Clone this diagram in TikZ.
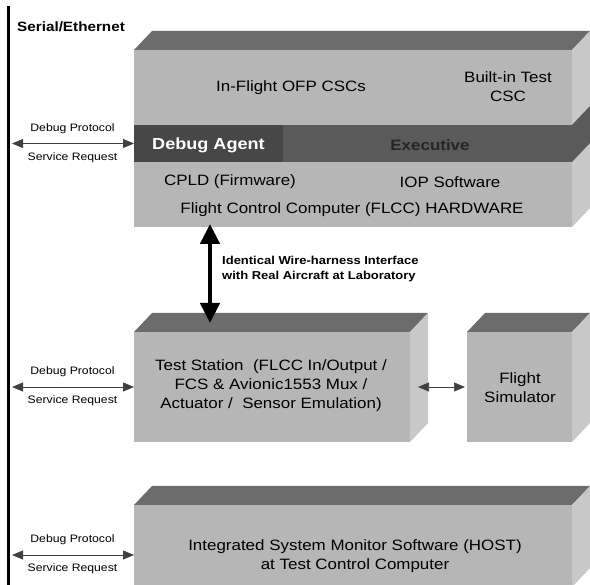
\documentclass[tikz,border=0pt]{standalone}
\usepackage{fontspec}
\setmainfont{Liberation Sans}[FakeStretch=1.13]
\usetikzlibrary{arrows.meta}

\definecolor{topgray}{HTML}{6C6C6C}
\definecolor{frontgray}{HTML}{B6B6B6}
\definecolor{sidegray}{HTML}{C8C8C8}
\definecolor{agentgray}{HTML}{474747}
\definecolor{execgray}{HTML}{5A5A5A}

\newcommand{\fs}[2]{\fontsize{#1}{#2}\selectfont}

% top and right faces of a slab whose front face is node #1
\newcommand{\drawslab}[1]{%
  \fill[topgray] (#1.north west) -- ++(18,-19) -- ([shift={(18,-19)}]#1.north east)
        -- (#1.north east) -- cycle;
  \fill[sidegray] (#1.north east) -- ++(18,-19) -- ([shift={(18,-19)}]#1.south east)
        -- (#1.south east) -- cycle;}

\tikzset{
  front/.style={fill=frontgray, inner sep=0pt, outer sep=0pt},
  band/.style={inner sep=0pt, outer sep=0pt},
  txt/.style={inner sep=0pt, align=center, font=\fs{15}{19}},
  small/.style={inner sep=0pt, font=\fs{10.8}{13}},
  dbg/.style={draw=black!75, line width=0.8pt,
    {Triangle[length=11pt,width=9pt]}-{Triangle[length=11pt,width=9pt]}},
  bus/.style={line width=3.6pt},
  wire/.style={line width=4.5pt,
    {Triangle[length=20pt,width=19pt]}-{Triangle[length=20pt,width=19pt]}},
}

\begin{document}
\begin{tikzpicture}[x=1pt, y=-1pt]
\useasboundingbox (0,0) rectangle (590,585);

% ---- Flight Control Computer slab ----
\node[front, minimum width=438pt, minimum height=177pt] (flcc) at (353,138.5) {};
\drawslab{flcc}
\node[band, fill=agentgray, minimum width=149pt, minimum height=37pt] (agent) at (208.5,143.5) {};
\node[band, fill=execgray, minimum width=289pt, minimum height=37pt] (exec) at (427.5,143.5) {};
\fill[execgray] (exec.north east) -- ++(18,-19) -- ++(0,37) -- (exec.south east) -- cycle;

\node[txt] (ofp) at (291,88) {In-Flight OFP CSCs};
\node[txt] (bit) at (508,87) {Built-in Test\\CSC};
\node[txt, font=\fs{16}{19}\bfseries, text=white, anchor=west] (agentlbl) at (152,145) {Debug Agent};
\node[txt, font=\fs{15}{19}\bfseries, text=black!85] (execlbl) at (430,145) {Executive};
\node[txt] (cpld) at (230,182) {CPLD (Firmware)};
\node[txt] (iop) at (450,182) {IOP Software};
\node[txt] (hw) at (352,210) {Flight Control Computer (FLCC) HARDWARE};

% ---- Test Station and Flight Simulator slabs ----
\node[front, minimum width=276pt, minimum height=110pt] (ts) at (272,387) {};
\drawslab{ts}
\node[front, minimum width=105pt, minimum height=110pt] (sim) at (519.5,387) {};
\drawslab{sim}
\node[txt] (tslbl) at (271,386) {Test Station\ \ (FLCC In/Output /\\FCS \& Avionic1553 Mux /\\Actuator /\ \ Sensor Emulation)};
\node[txt] (simlbl) at (520,388) {Flight\\Simulator};

% ---- Host slab ----
\node[front, minimum width=438pt, minimum height=82pt] (host) at (353,546) {};
\drawslab{host}
\node[txt] (hostlbl) at (355,556) {Integrated System Monitor Software (HOST)\\at Test Control Computer};

% ---- Serial/Ethernet bus ----
\coordinate (busTop) at (8.5,6);
\coordinate (busBot) at (8.5,585);
\draw[bus] (busTop) -- (busBot);
\node[inner sep=0pt, anchor=west, font=\fs{13.5}{15}\bfseries] (buslbl) at (17,27) {Serial/Ethernet};

% ---- debug links from the bus ----
\coordinate (d1) at (12,143.5);
\coordinate (d2) at (12,387);
\coordinate (d3) at (12,555);
\draw[dbg] (d1) -- (d1 -| flcc.west);
\draw[dbg] (d2) -- (d2 -| ts.west);
\draw[dbg] (d3) -- (d3 -| host.west);
\foreach \d/\n in {d1/1, d2/2, d3/3} {
  \node[small] (dp\n) at ([shift={(60.5,-15)}]\d) {Debug Protocol};
  \node[small] (sr\n) at ([shift={(60.5,14)}]\d) {Service Request};
}

% ---- wire-harness link ----
\coordinate (wx) at (210,0);
\draw[wire, shorten <=-3pt, shorten >=9pt] (wx |- flcc.south) -- (wx |- ts.north);
\node[inner sep=0pt, anchor=west, align=left, font=\fs{11.5}{15}\bfseries] (wirelbl) at (222,269)
  {Identical Wire-harness Interface\\with Real Aircraft at Laboratory};

% ---- test station to simulator ----
\draw[dbg, line width=0.7pt] ([xshift=8pt]ts.east) -- ([xshift=-2pt]sim.west);

\end{tikzpicture}
\end{document}
